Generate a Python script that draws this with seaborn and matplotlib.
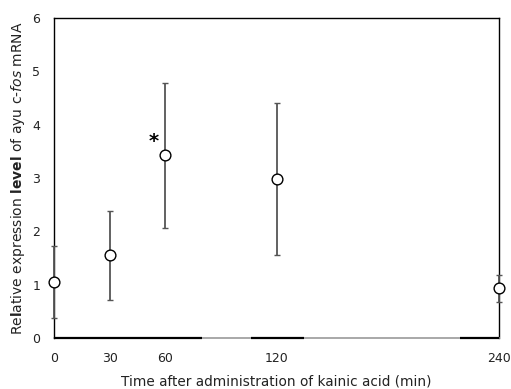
import numpy as np
import pandas as pd
import matplotlib
matplotlib.use("Agg")
import matplotlib.pyplot as plt
import seaborn as sns

# Data
time_min = [0, 30, 60, 120, 240]
rel_expr = [1.05, 1.55, 3.43, 2.98, 0.93]
err = [0.68, 0.83, 1.36, 1.42, 0.25]
x_ticks = [0, 30, 60, 120, 240]
y_ticks = [0, 1, 2, 3, 4, 5, 6]
sig_time = [54]
sig_level = [3.69]
# dark segments drawn on the baseline of the original
seg_start = [0, 106, 219]
seg_end = [80, 135, 240]

sns.set_theme(style="white")
plt.rcParams['font.family'] = ['DejaVu Sans']
plt.rcParams['mathtext.fontset'] = 'dejavusans'

df = pd.DataFrame({"time": time_min, "level": rel_expr, "err": err})

fig = plt.figure(figsize=(5.11, 3.89), dpi=100)
ax = fig.add_axes([54/511, 1-338/389, 445/511, 320/389])

ax.errorbar(df["time"], df["level"], yerr=df["err"], fmt="none",
            ecolor="#555555", elinewidth=1.3, capsize=2.2, capthick=1.0,
            clip_on=False, zorder=3)
sns.scatterplot(data=df, x="time", y="level", ax=ax, marker="o", s=60,
                facecolor="white", edgecolor="black", linewidth=1.0,
                zorder=4, clip_on=False, legend=False)

ax.hlines([0]*len(seg_start), seg_start, seg_end, colors="black",
          linewidth=1.6, zorder=5, clip_on=False)

for xs, ys in zip(sig_time, sig_level):
    ax.text(xs, ys, "*", fontsize=14, fontweight="bold", ha="center",
            va="center", color="black")

ax.set_xlim(0, 240)
ax.set_ylim(0, 6)
ax.set_xticks(x_ticks)
ax.set_yticks(y_ticks)
ax.tick_params(axis="both", direction="in", length=3.5, width=0.8,
               color="#777777", labelsize=9, labelcolor="#222222", pad=10)
ax.tick_params(axis="x", pad=10)

for side in ["top", "left", "right"]:
    ax.spines[side].set_color("black")
    ax.spines[side].set_linewidth(1.0)
ax.spines["bottom"].set_color("#999999")
ax.spines["bottom"].set_linewidth(1.2)

ax.set_xlabel("Time after administration of kainic acid (min)", fontsize=9.8,
              color="#222222", labelpad=7)
ax.set_ylabel(r"Re$\mathbf{l}$ative expression $\mathbf{level}$ of ayu c-$\mathit{fos}$ mRNA",
              fontsize=10, color="#222222", labelpad=3.5)

fig.savefig("out.png", dpi=100)
